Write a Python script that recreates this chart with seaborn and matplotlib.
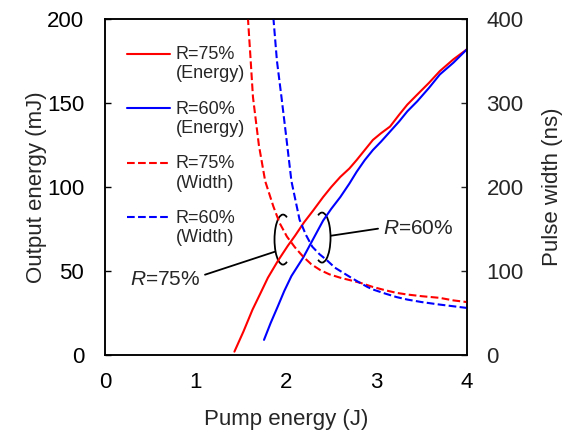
import numpy as np
import pandas as pd
import matplotlib
matplotlib.use("Agg")
import matplotlib.pyplot as plt
import seaborn as sns
from matplotlib.patches import Arc
from matplotlib.lines import Line2D
from matplotlib.legend_handler import HandlerLine2D
from matplotlib.transforms import ScaledTranslation

# ---------------- data ----------------
r75_energy_x = [1.43, 1.53, 1.63, 1.72, 1.80, 1.91, 2.02, 2.10, 2.20, 2.30, 2.41, 2.50, 2.60,
                2.70, 2.78, 2.87, 2.96, 3.05, 3.15, 3.25, 3.34, 3.45, 3.58, 3.70, 3.85, 4.00]
r75_energy_y = [2, 14, 27, 37, 46, 56, 65, 71, 79, 86, 94, 100, 106,
                111, 116, 122, 128, 132, 136, 143, 149, 155, 162, 169, 176, 182]

r60_energy_x = [1.757, 1.83, 1.91, 1.98, 2.06, 2.19, 2.30, 2.41, 2.50, 2.60, 2.70, 2.78,
                2.87, 2.96, 3.05, 3.15, 3.25, 3.34, 3.45, 3.58, 3.70, 3.85, 4.00]
r60_energy_y = [9, 19, 29, 38, 47, 58, 69, 80, 87, 94, 102, 109,
                116, 122, 127, 133, 139, 145, 151, 159, 167, 174, 182]

r75_width_x = [1.56, 1.58, 1.61, 1.635, 1.70, 1.77, 1.86, 1.93, 2.01, 2.10, 2.19, 2.28, 2.38,
               2.48, 2.60, 2.71, 2.82, 2.96, 3.10, 3.22, 3.34, 3.50, 3.70, 3.85, 4.00]
r75_width_y = [415, 400, 350, 307, 250, 207, 177, 157, 141, 128, 117, 108, 101,
               96, 92, 89, 86, 81, 77, 74, 72, 70, 68, 65, 63]

r60_width_x = [1.85, 1.86, 1.90, 1.95, 2.00, 2.06, 2.15, 2.22, 2.29, 2.37, 2.45, 2.54, 2.63,
               2.72, 2.80, 2.90, 2.96, 3.10, 3.22, 3.34, 3.50, 3.70, 3.85, 4.00]
r60_width_y = [415, 402, 350, 307, 262, 207, 161, 143, 129, 120, 113, 104, 98,
               92, 87, 81, 78, 73, 69, 66, 63, 60, 58, 56]

legend_labels = ["R=75%\n(Energy)", "R=60%\n(Energy)", "R=75%\n(Width)", "R=60%\n(Width)"]
x_ticks = [0, 1, 2, 3, 4]
left_ticks = [0, 50, 100, 150, 200]
right_ticks = [0, 100, 200, 300, 400]

# ---------------- style ----------------
sns.set_style("white")
plt.rcParams["font.family"] = ["Liberation Sans", "DejaVu Sans"]
plt.rcParams["mathtext.fontset"] = "custom"
plt.rcParams["mathtext.it"] = "Liberation Sans:italic"
plt.rcParams["mathtext.rm"] = "Liberation Sans"

RED = "#FF0000"
BLUE = "#0000FF"
LW = 1.5

fig = plt.figure(figsize=(5.71, 4.32), dpi=100)
ax = fig.add_axes([105 / 571, 1 - 355 / 432, 362 / 571, 336 / 432])
ax2 = ax.twinx()

sns.lineplot(x=r75_energy_x, y=r75_energy_y, ax=ax, color=RED, lw=LW, sort=False, legend=False)
sns.lineplot(x=r60_energy_x, y=r60_energy_y, ax=ax, color=BLUE, lw=LW, sort=False, legend=False)
sns.lineplot(x=r75_width_x, y=r75_width_y, ax=ax2, color=RED, lw=LW, linestyle="--", sort=False, legend=False)
sns.lineplot(x=r60_width_x, y=r60_width_y, ax=ax2, color=BLUE, lw=LW, linestyle="--", sort=False, legend=False)

ax.set_xlim(0, 4)
ax.set_ylim(0, 200)
ax2.set_ylim(0, 400)
ax.set_xticks(x_ticks)
ax.set_yticks(left_ticks)
ax2.set_yticks(right_ticks)

for a in (ax, ax2):
    for s in a.spines.values():
        s.set_visible(True)
        s.set_color("black")
        s.set_linewidth(1.1)

ax.tick_params(axis="both", direction="in", length=4, width=1, labelsize=16, colors="black",
               top=False, right=False)
ax.tick_params(axis="y", pad=15)
ax.tick_params(axis="x", pad=12)
ax2.tick_params(axis="y", direction="in", length=4, width=1, labelsize=16, pad=14,
                left=False, right=True)

ax.set_xlabel("Pump energy (J)", fontsize=16, labelpad=12)
ax.set_ylabel("Output energy (mJ)", fontsize=16, labelpad=0)
ax2.set_ylabel("Pulse width (ns)", fontsize=16, labelpad=13)

# ---------------- legend ----------------
class HandlerUp(HandlerLine2D):
    def create_artists(self, legend, orig_handle, xdescent, ydescent, width, height, fontsize, trans):
        shift = 0.6 * fontsize
        return super().create_artists(legend, orig_handle, xdescent, ydescent - 2 * shift,
                                      width, height, fontsize, trans)

handles = [Line2D([], [], color=RED, lw=LW),
           Line2D([], [], color=BLUE, lw=LW),
           Line2D([], [], color=RED, lw=LW, linestyle="--"),
           Line2D([], [], color=BLUE, lw=LW, linestyle="--")]
leg = ax.legend(handles, legend_labels, loc="upper left", bbox_to_anchor=(0.06, 0.92),
                frameon=False, fontsize=13, handlelength=2.4, handletextpad=0.3,
                labelspacing=1.0, borderpad=0, borderaxespad=0,
                handler_map={Line2D: HandlerUp()})
leg.set_zorder(5)

# ---------------- annotations ----------------
def bracket(cx, cy, t1, t2):
    tr = fig.dpi_scale_trans + ScaledTranslation(cx, cy, ax.transData)
    ax.add_patch(Arc((0, 0), 0.17, 0.50, theta1=t1, theta2=t2, color="black", lw=1.3,
                     transform=tr, clip_on=False))

bracket(1.967, 68.7, 80, 280)
bracket(2.398, 69.9, -100, 100)
ax.plot([1.878, 1.105], [61.5, 47.8], color="black", lw=1.3)
ax.plot([2.497, 3.017], [71.0, 75.2], color="black", lw=1.3)
ax.text(0.663, 45.0, "$R$=75%", fontsize=15, ha="center", va="center")
ax.text(3.07, 75.2, "$R$=60%", fontsize=15, ha="left", va="center")

fig.savefig("out.png", dpi=100)
